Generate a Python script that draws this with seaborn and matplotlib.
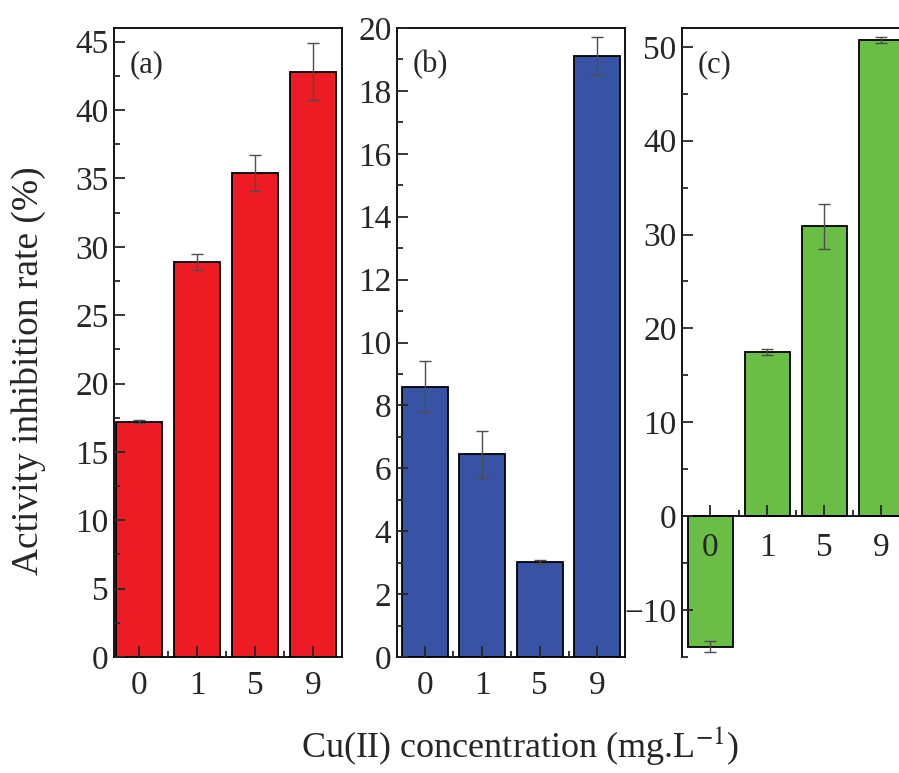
import matplotlib
matplotlib.use("Agg")
import matplotlib.pyplot as plt
import seaborn as sns
import pandas as pd
from matplotlib.ticker import MultipleLocator, FixedLocator

# data
conc = ["0", "1", "5", "9"]
rate_a = [17.2, 28.9, 35.4, 42.8]
err_a = [0.1, 0.6, 1.3, 2.1]
rate_b = [8.6, 6.45, 3.02, 19.1]
err_b = [0.8, 0.75, 0.05, 0.6]
rate_c = [-13.9, 17.5, 30.9, 50.7]
err_c = [0.6, 0.3, 2.4, 0.3]

sns.set_style("ticks")
plt.rcParams["font.family"] = ["Liberation Serif", "DejaVu Serif"]
plt.rcParams["mathtext.fontset"] = "stix"

fig = plt.figure(figsize=(8.99, 7.73), dpi=100)

panels = [
    dict(vals=rate_a, errs=err_a, color="#ED1C24", rect=[0.1268, 0.150, 0.2536, 0.8138],
         ylim=(0, 46), major=5, minor=2.5, xlim=(-0.43, 3.5), label="(a)"),
    dict(vals=rate_b, errs=err_b, color="#3953A4", rect=[0.4416, 0.150, 0.2536, 0.8138],
         ylim=(0, 20), major=2, minor=1, xlim=(-0.48, 3.48), label="(b)"),
    dict(vals=rate_c, errs=err_c, color="#6ABD45", rect=[0.7586, 0.150, 0.2536, 0.8138],
         ylim=(-15, 52), major=10, minor=5, xlim=(-0.5, 3.5), label="(c)"),
]

for p in panels:
    ax = fig.add_axes(p["rect"])
    df = pd.DataFrame({"conc": conc, "rate": p["vals"]})
    sns.barplot(data=df, x="conc", y="rate", order=conc, color=p["color"],
                edgecolor="black", linewidth=1.3, width=0.8, saturation=1, ax=ax)
    ax.errorbar(range(len(conc)), p["vals"], yerr=p["errs"], fmt="none",
                ecolor="0.3", elinewidth=1, capsize=4, capthick=1)
    ax.set_axisbelow(False)
    ax.set_xlim(*p["xlim"])
    ax.set_ylim(*p["ylim"])
    ax.yaxis.set_major_locator(MultipleLocator(p["major"]))
    ax.yaxis.set_minor_locator(MultipleLocator(p["minor"]))
    ax.xaxis.set_minor_locator(FixedLocator([0.5, 1.5, 2.5]))
    ax.tick_params(axis="both", which="both", direction="in", labelsize=24,
                   top=False, right=False, width=1.3)
    ax.tick_params(which="major", length=8)
    ax.tick_params(which="minor", length=4)
    ax.tick_params(axis="x", pad=10)
    ax.tick_params(axis="y", pad=4)
    ax.set_xlabel("")
    ax.set_ylabel("")
    for s in ax.spines.values():
        s.set_linewidth(1.3)
        s.set_color("black")
    if p["label"] == "(c)":
        ax.spines["bottom"].set_position(("data", 0))
        ax.tick_params(axis="x", pad=12)
    ax.text(0.07, 0.965, p["label"], transform=ax.transAxes, fontsize=22,
            ha="left", va="top")

fig.text(0.032, 0.52, "Activity inhibition rate (%)", rotation=90,
         fontsize=27, ha="center", va="center")
fig.text(0.578, 0.036, r"Cu(II) concentration (mg.L$^{-1}$)",
         fontsize=26, ha="center", va="center")

fig.savefig("out.png", dpi=100)
